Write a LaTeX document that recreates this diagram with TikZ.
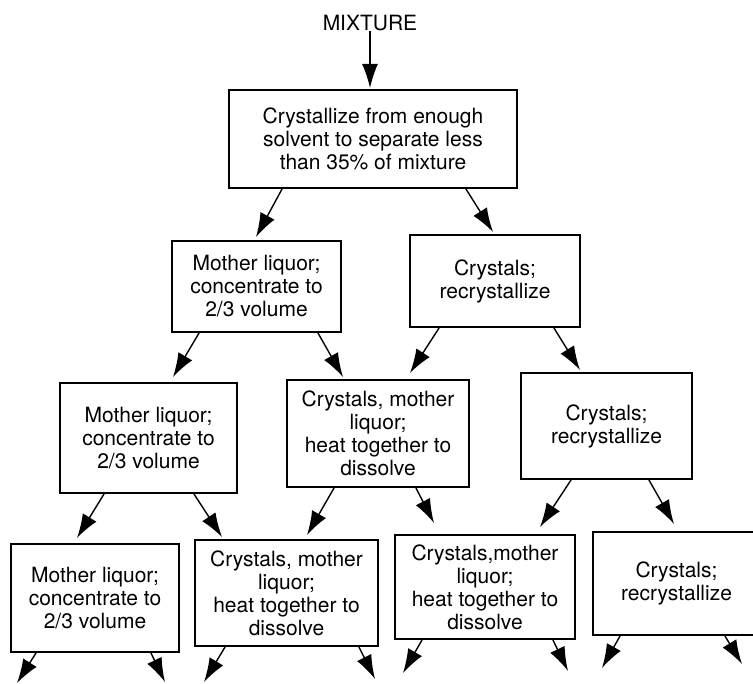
\documentclass[tikz,border=0pt]{standalone}
\usepackage{fontspec}
\setmainfont{TeX Gyre Heros}
\usetikzlibrary{arrows.meta}
\begin{document}
\begin{tikzpicture}[x=1pt,y=-1pt,
  procbox/.style={draw, line width=1.8pt, inner sep=0pt, align=center,
    font=\fontsize{21}{23}\selectfont},
  flowarrow/.style={line width=1.4pt, -{Latex[length=24pt,width=16pt]}},
  lbl/.style={inner sep=0pt, font=\fontsize{21}{23}\selectfont}]
\useasboundingbox (0,0) rectangle (753,684);
\clip (0,0) rectangle (753,684);
% nodes
\node[lbl] (mix) at (370,23) {MIXTURE};
\node[procbox, minimum width=288pt, minimum height=98pt] (box1) at (373,139)
  {Crystallize from enough\\solvent to separate less\\than 35\% of mixture};
\node[procbox, minimum width=169pt, minimum height=91pt] (ml1) at (256.5,286.5)
  {Mother liquor;\\concentrate to\\2/3 volume};
\node[procbox, minimum width=170pt, minimum height=92pt] (cry1) at (495,281)
  {Crystals;\\recrystallize};
\node[procbox, minimum width=177pt, minimum height=110pt] (ml2) at (148.5,438)
  {Mother liquor;\\concentrate to\\2/3 volume};
\node[procbox, minimum width=182pt, minimum height=107pt] (cml2) at (378,433.5)
  {Crystals, mother\\liquor;\\heat together to\\dissolve};
\node[procbox, minimum width=171pt, minimum height=106pt] (cry2) at (606.5,426)
  {Crystals;\\recrystallize};
\node[procbox, minimum width=168pt, minimum height=108pt] (ml3) at (95,598)
  {Mother liquor;\\concentrate to\\2/3 volume};
\node[procbox, minimum width=183pt, minimum height=106pt] (cml3) at (286.5,593)
  {Crystals, mother\\liquor;\\heat together to\\dissolve};
\node[procbox, minimum width=180pt, minimum height=104pt] (cmlb) at (485,587)
  {Crystals,mother\\liquor;\\heat together to\\dissolve};
\node[procbox, minimum width=167pt, minimum height=103pt] (cry3) at (676.5,583.5)
  {Crystals;\\recrystallize};
% arrow tip coordinates
\coordinate (t0) at (370,88);
\coordinate (t1) at (256,237);
\coordinate (t2) at (493,232);
\coordinate (t3) at (173,377);
\coordinate (t4) at (343,377);
\coordinate (t5) at (410,373);
\coordinate (t6) at (580,370);
\coordinate (t7) at (77,538);
\coordinate (t8) at (222,537);
\coordinate (t9) at (307,535);
\coordinate (t10) at (434,523);
\coordinate (t11) at (540,527);
\coordinate (t12) at (674,524);
\coordinate (b1) at (17,683);
\coordinate (b2) at (165,682);
\coordinate (b3) at (204,682);
\coordinate (b4) at (375,679);
\coordinate (b5) at (403,673);
\coordinate (b6) at (568,671);
\coordinate (b7) at (602,668);
\coordinate (b8) at (742,664);
% connectors
\draw[flowarrow] (mix.south) -- (t0);
\draw[flowarrow] ([xshift=54pt]box1.south west) -- (t1);
\draw[flowarrow] ([xshift=-52pt]box1.south east) -- (t2);
\draw[flowarrow] ([xshift=28pt]ml1.south west) -- (t3);
\draw[flowarrow] ([xshift=-24pt]ml1.south east) -- (t4);
\draw[flowarrow] ([xshift=30pt]cry1.south west) -- (t5);
\draw[flowarrow] ([xshift=-27pt]cry1.south east) -- (t6);
\draw[flowarrow] ([xshift=45pt]ml2.south west) -- (t7);
\draw[flowarrow] ([xshift=-44pt]ml2.south east) -- (t8);
\draw[flowarrow] ([xshift=48pt]cml2.south west) -- (t9);
\draw[flowarrow] ([xshift=-54pt]cml2.south east) -- (t10);
\draw[flowarrow] ([xshift=51pt]cry2.south west) -- (t11);
\draw[flowarrow] ([xshift=-44pt]cry2.south east) -- (t12);
\draw[flowarrow] ([xshift=26pt]ml3.south west) -- (b1);
\draw[flowarrow] ([xshift=-29pt]ml3.south east) -- (b2);
\draw[flowarrow] ([xshift=31pt]cml3.south west) -- (b3);
\draw[flowarrow] ([xshift=-20pt]cml3.south east) -- (b4);
\draw[flowarrow] ([xshift=28pt]cmlb.south west) -- (b5);
\draw[flowarrow] ([xshift=-23pt]cmlb.south east) -- (b6);
\draw[flowarrow] ([xshift=28pt]cry3.south west) -- (b7);
\draw[flowarrow] ([xshift=-36pt]cry3.south east) -- (b8);
\end{tikzpicture}
\end{document}
